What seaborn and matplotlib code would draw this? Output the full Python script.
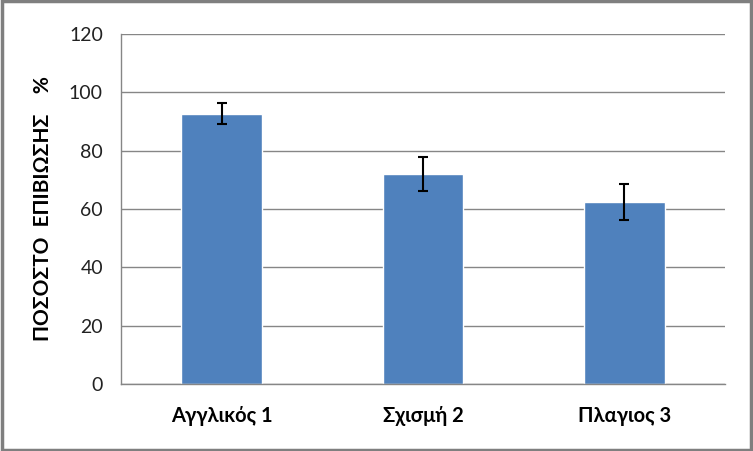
import matplotlib
matplotlib.use("Agg")
import matplotlib.pyplot as plt
import seaborn as sns
import pandas as pd
from matplotlib.patches import Rectangle

categories = ["Αγγλικός 1", "Σχισμή 2", "Πλαγιος 3"]
values = [92.6, 72.0, 62.4]
errors = [3.6, 5.8, 6.2]
yticks = [0, 20, 40, 60, 80, 100, 120]

df = pd.DataFrame({"cat": categories, "val": values})

sns.set_theme(style="white")
plt.rcParams['font.family'] = ['Lato', 'DejaVu Sans']

fig = plt.figure(figsize=(7.53, 4.51), dpi=100)
ax = fig.add_axes([121/753, 1-384/451, 604/753, 350/451])

sns.barplot(data=df, x="cat", y="val", color="#4F81BD", width=0.4,
            errorbar=None, ax=ax, saturation=1)
ax.errorbar(range(len(categories)), values, yerr=errors, fmt="none",
            ecolor="black", elinewidth=1.5, capsize=3.3, capthick=1.5, zorder=5)

ax.set_ylim(0, 120)
ax.set_xlim(-0.5, 2.5)
ax.set_yticks(yticks)
ax.set_yticklabels([str(t) for t in yticks], fontsize=14, color="#222222")
ax.yaxis.grid(True, color="#868686", linewidth=1.0)
ax.set_axisbelow(True)

ax.set_xticks([0, 1, 2])
ax.set_xticklabels(categories, fontsize=14.5, fontweight="bold", color="black")
ax.tick_params(axis="x", length=0, pad=16)
ax.set_xticks([-0.5, 0.5, 1.5, 2.5], minor=True)
ax.tick_params(axis="x", which="minor", length=5, color="#868686", width=1, direction="out")
ax.tick_params(axis="y", length=5, color="#868686", width=1, direction="out", pad=8)

for s in ["top", "right"]:
    ax.spines[s].set_visible(False)
for s in ["left", "bottom"]:
    ax.spines[s].set_color("#868686")
    ax.spines[s].set_linewidth(1.0)

ax.set_xlabel("")
ax.set_ylabel("ΠΟΣΟΣΤΟ  ΕΠΙΒΙΩΣΗΣ    %", fontsize=15, fontweight="bold",
              color="black")
ax.yaxis.set_label_coords(-68/604, 0.5)

fig.patches.append(Rectangle((0.002, 0.003), 0.995, 0.994, transform=fig.transFigure,
                             fill=False, edgecolor="#7f7f7f", linewidth=2.5))

fig.savefig("out.png", dpi=100)
